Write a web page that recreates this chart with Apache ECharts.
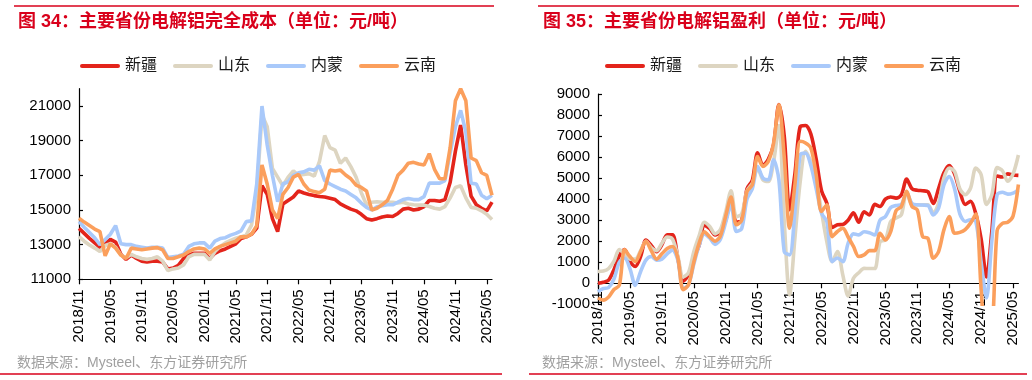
<!DOCTYPE html>
<html><head><meta charset="utf-8">
<script src="https://cdn.jsdelivr.net/npm/echarts@6/dist/echarts.min.js"></script>
<style>html,body{margin:0;padding:0;background:#fff}#c{width:1032px;height:380px}</style>
</head><body><div id="c"></div>
<script>
const categories = ["2018/11","2018/12",
"2019/01","2019/02","2019/03","2019/04","2019/05","2019/06","2019/07","2019/08","2019/09","2019/10","2019/11","2019/12",
"2020/01","2020/02","2020/03","2020/04","2020/05","2020/06","2020/07","2020/08","2020/09","2020/10","2020/11","2020/12",
"2021/01","2021/02","2021/03","2021/04","2021/05","2021/06","2021/07","2021/08","2021/09","2021/10","2021/11","2021/12",
"2022/01","2022/02","2022/03","2022/04","2022/05","2022/06","2022/07","2022/08","2022/09","2022/10","2022/11","2022/12",
"2023/01","2023/02","2023/03","2023/04","2023/05","2023/06","2023/07","2023/08","2023/09","2023/10","2023/11","2023/12",
"2024/01","2024/02","2024/03","2024/04","2024/05","2024/06","2024/07","2024/08","2024/09","2024/10","2024/11","2024/12",
"2025/01","2025/02","2025/03","2025/04","2025/05","2025/06"];
const seriesNames = ["新疆","山东","内蒙","云南"];
const titles = ["图 34：主要省份电解铝完全成本（单位：元/吨）","图 35：主要省份电解铝盈利（单位：元/吨）"];
const sourceNote = "数据来源：Mysteel、东方证券研究所";
const costTicks = [11000,13000,15000,17000,19000,21000];

// 完全成本
const costXinjiang = [13940,13650,13360,13100,12850,13050,13300,13150,12450,12150,
12400,12200,12050,12000,12050,12050,12000,11600,11650,11800,
12200,12400,12500,12500,12500,12200,12500,12650,12750,12900,
13050,13350,13450,13600,13950,16400,15900,14500,13750,15350,
15550,15750,16100,15980,15900,15830,15780,15750,15680,15600,
15350,15200,15050,14950,14750,14500,14420,14500,14600,14650,
14620,14800,15050,15100,15000,15050,15200,15550,15550,15500,
15600,16600,18400,19900,17600,15800,15300,15100,14950,15450];
const costShandong = [13460,13200,12980,12800,12600,12950,13050,12850,12400,12250,
12440,12300,12200,12150,12200,12300,12050,11500,11600,11650,
11830,12300,12440,12440,12440,12110,12600,12900,13100,13250,
13370,13450,13560,14130,16000,20500,19800,17400,16900,16400,
16900,17250,17000,17050,17100,16950,17800,19300,18600,18450,
17700,18000,17500,16900,16000,15300,15450,15480,15450,15450,
15450,15400,15450,15350,15300,15280,15280,15200,15100,15050,
15200,15700,16300,16400,15700,15150,15100,14950,14750,14450];
const costNeimeng = [14330,14000,13700,13400,13000,13300,13600,14100,13050,13000,
13000,12900,12850,12800,12850,12850,12800,12250,12300,12350,
12450,12900,13050,13100,13100,12800,13200,13350,13400,13550,
13650,13800,14330,14370,16500,21000,18750,17000,15480,16500,
16630,17000,17150,17200,17350,17300,17550,16700,16500,16350,
16200,16100,15900,15700,15400,15150,15000,15190,15250,15300,
15300,15450,15600,15670,15600,15600,15770,16550,16550,16550,
16700,18300,19800,20750,19500,16550,16500,15850,15650,15850];
const costYunnan = [14520,14300,14100,13900,13750,12350,13050,12800,12400,12200,
12800,12750,12700,12750,12800,12830,12700,12200,12200,12300,
12400,12600,12750,12800,12750,12500,12750,12900,13000,13100,
13200,13460,13450,13600,14100,17600,16500,15000,14500,15900,
16300,16900,17050,16500,16150,16060,16000,16200,17300,17250,
17300,17020,16800,16440,16300,16100,15000,15100,15300,15550,
16200,17000,17300,17700,17750,17650,17600,18250,17350,16800,
16800,18600,21300,22000,21300,18000,17850,17150,17000,15850];

// 盈利
const profitXinjiang = [0,50,150,650,1300,1600,1030,800,1270,2050,
1800,1500,1830,2300,2300,1200,100,400,1200,1800,
2750,2600,2300,2450,3000,4000,2900,3000,4500,4900,
6200,5600,5900,6600,8500,7000,3500,5200,7450,7500,
7100,5900,4400,3800,2650,2780,2800,3000,3350,2900,
3400,3250,3750,3650,4000,4100,4050,4200,4950,4500,
4420,4400,4350,3800,4500,5250,5600,5200,4370,3750,
3900,3300,2100,300,2450,5100,5050,5200,5150,5130];
const profitShandong = [560,580,700,1050,1600,1400,1150,1150,1550,2000,
1700,1550,1900,2200,2100,1300,300,500,1500,2250,
2900,2700,2350,2550,3400,4400,3170,3300,4400,4760,
5480,4920,4840,5790,7500,2940,-550,2140,4840,6270,
5790,4840,3410,1980,1030,1510,400,-600,240,500,
710,700,700,1980,2060,2940,3100,3250,4370,3730,
3730,3730,3730,3330,3810,5000,5480,5320,4500,4210,
4520,5480,5160,3750,4200,5500,5350,4850,5200,6100];
const profitNeimeng = [-400,-250,-200,200,1000,1200,700,-100,550,1100,
1270,1100,1150,1400,1590,1100,-250,-80,900,1800,
2350,2150,1850,2100,2900,3750,2460,2600,4000,4500,
5550,5000,4920,5870,4900,1500,1350,3400,6100,6190,
5600,4500,3330,2940,1030,1200,1030,1900,2350,2300,
2450,2400,2300,3000,3170,3600,3700,3750,4300,3800,
3730,3720,3700,3250,3570,4680,5080,4500,3300,2940,
3020,2940,1000,-700,2000,4210,4330,4240,4290,4440];
const profitYunnan = [-700,-800,-650,-300,-100,1600,1270,1030,1500,2000,
1550,1150,1400,1650,1750,1200,-300,-80,1000,1900,
2450,2200,2000,2250,3200,4100,2780,3000,4370,4680,
6030,5560,5790,6670,8490,6000,2620,4680,6750,6670,
6430,5160,3410,3730,2220,2460,2620,2200,1750,1270,
1350,1550,1550,2380,2060,2460,3450,3650,4370,3650,
3490,2220,2140,1190,1510,2540,3170,2380,2420,2550,
2860,3290,-300,-3000,-2500,2500,2850,2900,3200,4700];

const colors = ["#e3241b","#ddd5c1","#a9c9fa","#fb9f5c"];
const RED = "#d9001b";
const FONT = "'Liberation Sans','Noto Sans CJK SC',sans-serif";
const CJK = "'Liberation Sans','Noto Sans CJK SC',sans-serif";
const legendIcon = "path://M2,0H38A2,2,0,0,1,38,4H2A2,2,0,0,1,2,0Z";
const plain = v => String(v);

function legendAt(left){
  return {left:left, top:58, padding:0, itemWidth:40, itemHeight:4, itemGap:16, icon:legendIcon,
    data:seriesNames, textStyle:{fontSize:16, color:"#1a1a1a", fontFamily:CJK}};
}
function xAxisFor(g, margin, offset){
  return {gridIndex:g, type:"category", data:categories, boundaryGap:false, offset:offset,
    axisLine:{onZero:false, lineStyle:{color:"#000", width:1.2}},
    axisTick:{interval:5, length:5, lineStyle:{color:"#000", width:1.2}},
    axisLabel:{interval:5, rotate:90, fontSize:15, color:"#000", margin:margin, fontFamily:FONT},
    splitLine:{show:false}};
}
const yCommon = {splitLine:{show:false},
  axisLine:{show:true, lineStyle:{color:"#000", width:1.2}},
  axisTick:{show:true, inside:true, length:4, lineStyle:{color:"#000", width:1.2}},
  axisLabel:{fontSize:15, color:"#000", margin:8, fontFamily:FONT, formatter:plain}};

const leftData = [costXinjiang, costShandong, costNeimeng, costYunnan];
const rightData = [profitXinjiang, profitShandong, profitNeimeng, profitYunnan];
const series = [];
seriesNames.forEach((n,k)=>{
  series.push({name:n, type:"line", xAxisIndex:0, yAxisIndex:0, data:leftData[k], symbol:"none",
    lineStyle:{width:3.6, color:colors[k]}, itemStyle:{color:colors[k]}});
});
seriesNames.forEach((n,k)=>{
  series.push({name:n, type:"line", xAxisIndex:1, yAxisIndex:1, data:rightData[k], symbol:"none", smooth:0.3,
    lineStyle:{width:3.6, color:colors[k]}, itemStyle:{color:colors[k]}});
});

const rightHeight = 210.3;
const option = {
  animation:false,
  color:colors,
  textStyle:{fontFamily:FONT},
  legend:[legendAt(80), legendAt(605)],
  grid:[
    {left:79, top:88.7, width:413, height:190.6},
    {left:598, top:94, width:420.4, height:rightHeight}
  ],
  xAxis:[xAxisFor(0,10,0), xAxisFor(1,8,-rightHeight/10)],
  yAxis:[
    Object.assign({}, yCommon, {gridIndex:0, type:"value", min:11000, max:22000,
      axisTick:Object.assign({}, yCommon.axisTick, {customValues:costTicks}),
      axisLabel:Object.assign({}, yCommon.axisLabel, {customValues:costTicks})}),
    Object.assign({}, yCommon, {gridIndex:1, type:"value", min:-1000, max:9000, interval:1000})
  ],
  series:series,
  graphic:[
    {type:"line", shape:{x1:14,y1:6,x2:494,y2:6}, style:{stroke:RED, lineWidth:1.5}},
    {type:"line", shape:{x1:538,y1:6,x2:1019,y2:6}, style:{stroke:RED, lineWidth:1.5}},
    {type:"text", x:18, y:22, style:{text:titles[0], font:"bold 18px "+CJK, fill:RED, verticalAlign:"middle"}},
    {type:"text", x:543, y:22, style:{text:titles[1], font:"bold 18px "+CJK, fill:RED, verticalAlign:"middle"}},
    {type:"text", x:17, y:363, style:{text:sourceNote, font:"14px "+CJK, fill:"#a0a0a0", verticalAlign:"middle"}},
    {type:"text", x:542, y:363, style:{text:sourceNote, font:"14px "+CJK, fill:"#a0a0a0", verticalAlign:"middle"}},
    {type:"line", shape:{x1:0,y1:374,x2:502,y2:374}, style:{stroke:RED, lineWidth:1.5}},
    {type:"line", shape:{x1:529,y1:374,x2:1027,y2:374}, style:{stroke:RED, lineWidth:1.5}}
  ]
};
const chart = echarts.init(document.getElementById("c"), null, {renderer:"canvas"});
chart.setOption(option);
</script></body></html>
